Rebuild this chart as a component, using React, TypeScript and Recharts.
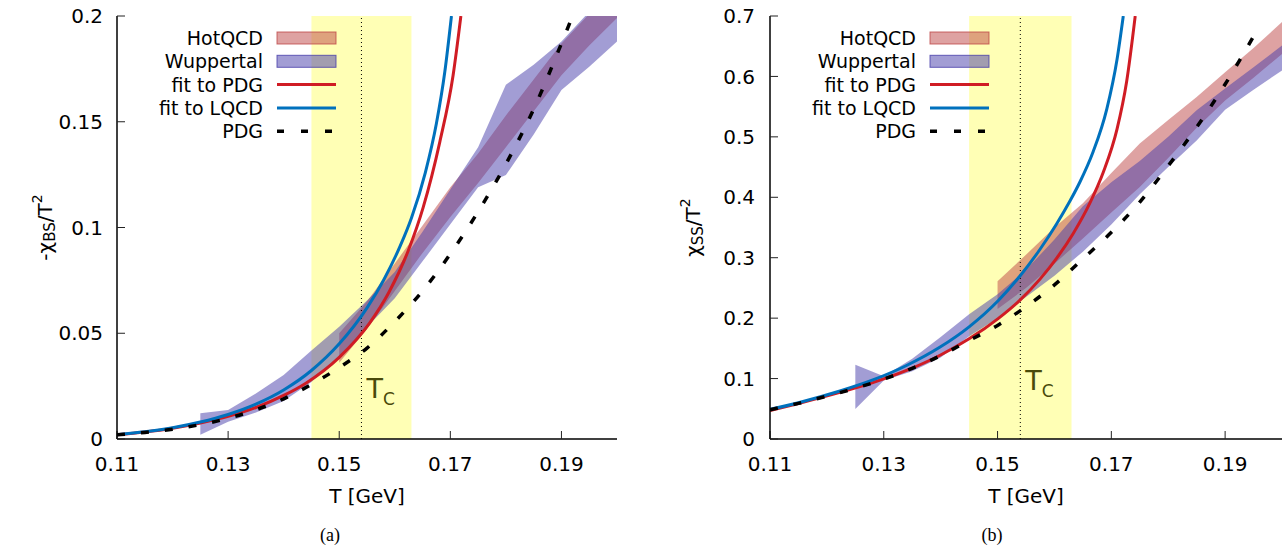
import React from 'react';
import {
  ComposedChart, Area, Line, XAxis, YAxis, ReferenceArea, ReferenceLine, Legend,
} from 'recharts';

const FONT = '"DejaVu Sans", Verdana, sans-serif';
const HOT_COLOR = '#be4646';
const WUP_COLOR = '#463caa';
const FIT_PDG_COLOR = '#d01c24';
const FIT_LQCD_COLOR = '#0071bd';
const YELLOW = '#ffffb5';
const OLIVE = '#4a4a0a';

// shared
const T_TICKS = [0.11, 0.13, 0.15, 0.17, 0.19];
const T_DOMAIN = [0.11, 0.2];
const TC = 0.154;
const TC_BAND = [0.145, 0.163];

// (a) -chi_BS / T^2
const BS_TICKS = [0, 0.05, 0.1, 0.15, 0.2];

const BS_HOT_T = [0.150, 0.155, 0.160, 0.165, 0.170, 0.175, 0.180, 0.185, 0.190, 0.195, 0.200];
const BS_HOT_LO = [0.036, 0.052, 0.070, 0.088, 0.105, 0.121, 0.138, 0.155, 0.172, 0.186, 0.199];
const BS_HOT_HI = [0.050, 0.065, 0.083, 0.101, 0.119, 0.135, 0.153, 0.170, 0.187, 0.201, 0.214];

const BS_WUP_T = [0.125, 0.130, 0.135, 0.140, 0.145, 0.150, 0.155, 0.160, 0.165, 0.170, 0.175, 0.180, 0.185, 0.190, 0.195, 0.200];
const BS_WUP_LO = [0.0020, 0.0082, 0.0125, 0.0180, 0.0270, 0.0390, 0.0530, 0.0665, 0.0840, 0.1015, 0.1190, 0.1248, 0.1440, 0.1650, 0.1760, 0.1880];
const BS_WUP_HI = [0.0122, 0.0137, 0.0215, 0.0303, 0.0418, 0.0531, 0.0655, 0.0790, 0.0980, 0.1180, 0.1380, 0.1675, 0.1770, 0.1880, 0.2020, 0.2160];

const BS_FITPDG_T = [0.110, 0.115, 0.120, 0.125, 0.130, 0.135, 0.140, 0.144, 0.150, 0.1555, 0.159, 0.1624, 0.1651, 0.1681, 0.1705, 0.1719];
const BS_FITPDG = [0.0020, 0.0033, 0.0051, 0.0076, 0.0107, 0.0149, 0.0206, 0.0264, 0.0386, 0.0549, 0.0696, 0.0889, 0.1094, 0.1404, 0.1720, 0.2000];

const BS_FITLQCD_T = [0.110, 0.115, 0.120, 0.125, 0.130, 0.135, 0.140, 0.145, 0.150, 0.155, 0.158, 0.161, 0.163, 0.1655, 0.1675, 0.169, 0.1702];
const BS_FITLQCD = [0.0020, 0.0034, 0.0053, 0.0080, 0.0116, 0.0165, 0.0232, 0.0324, 0.0450, 0.0620, 0.0752, 0.0914, 0.1045, 0.1260, 0.1493, 0.1735, 0.2000];

const BS_PDG_T = [0.110, 0.115, 0.120, 0.125, 0.130, 0.135, 0.140, 0.145, 0.150, 0.155, 0.160, 0.165, 0.170, 0.175, 0.180, 0.185, 0.190, 0.192];
const BS_PDG = [0.0020, 0.0031, 0.0046, 0.0068, 0.0098, 0.0138, 0.0190, 0.0258, 0.0338, 0.0430, 0.0555, 0.0700, 0.0875, 0.1075, 0.1300, 0.1560, 0.1870, 0.2000];

// (b) chi_SS / T^2
const SS_TICKS = [0, 0.1, 0.2, 0.3, 0.4, 0.5, 0.6, 0.7];

const SS_HOT_T = [0.150, 0.155, 0.160, 0.165, 0.170, 0.175, 0.180, 0.185, 0.190, 0.195, 0.200];
const SS_HOT_LO = [0.215, 0.250, 0.290, 0.332, 0.375, 0.417, 0.465, 0.515, 0.560, 0.598, 0.637];
const SS_HOT_HI = [0.261, 0.305, 0.350, 0.390, 0.440, 0.489, 0.528, 0.566, 0.607, 0.647, 0.690];

const SS_WUP_T = [0.125, 0.130, 0.135, 0.140, 0.145, 0.150, 0.155, 0.160, 0.165, 0.170, 0.175, 0.180, 0.185, 0.190, 0.195, 0.200];
const SS_WUP_LO = [0.0495, 0.0970, 0.1120, 0.1350, 0.1700, 0.2000, 0.2350, 0.2700, 0.3100, 0.3550, 0.4050, 0.4500, 0.4940, 0.5450, 0.5780, 0.6100];
const SS_WUP_HI = [0.1227, 0.1040, 0.1330, 0.1690, 0.2064, 0.2394, 0.2800, 0.3300, 0.3850, 0.4250, 0.4600, 0.5000, 0.5440, 0.5800, 0.6150, 0.6510];

const SS_FITPDG_T = [0.110, 0.115, 0.1223, 0.1282, 0.134, 0.1399, 0.145, 0.1501, 0.1539, 0.1575, 0.1604, 0.1633, 0.1662, 0.1686, 0.171, 0.1727, 0.1742];
const SS_FITPDG = [0.0470, 0.0588, 0.0771, 0.0937, 0.1134, 0.1386, 0.1658, 0.1993, 0.2295, 0.2650, 0.2994, 0.3402, 0.3899, 0.4418, 0.5127, 0.5920, 0.7000];

const SS_FITLQCD_T = [0.110, 0.115, 0.1223, 0.1282, 0.134, 0.1399, 0.145, 0.1501, 0.1539, 0.1575, 0.1604, 0.1627, 0.1645, 0.1668, 0.1692, 0.171, 0.1721];
const SS_FITLQCD = [0.0490, 0.0601, 0.0794, 0.0981, 0.1216, 0.1521, 0.1856, 0.2288, 0.2693, 0.3144, 0.3562, 0.3933, 0.4257, 0.4753, 0.5460, 0.6280, 0.7000];

const SS_PDG_T = [0.110, 0.115, 0.120, 0.125, 0.130, 0.135, 0.140, 0.145, 0.150, 0.155, 0.160, 0.165, 0.170, 0.175, 0.180, 0.185, 0.190, 0.1959];
const SS_PDG = [0.0485, 0.0590, 0.0710, 0.0840, 0.0990, 0.1170, 0.1380, 0.1630, 0.1880, 0.2190, 0.2550, 0.2980, 0.3420, 0.3920, 0.4520, 0.5160, 0.5870, 0.6810];

type Pt = { T: number; v: number };
type Rg = { T: number; r: [number, number] };

const curve = (t: number[], v: number[]): Pt[] => t.map((T, i) => ({ T, v: v[i] }));
const band = (t: number[], lo: number[], hi: number[]): Rg[] =>
  t.map((T, i) => ({ T, r: [lo[i], hi[i]] as [number, number] }));

const LEGEND_ITEMS = [
  { name: 'HotQCD', kind: 'band', color: HOT_COLOR },
  { name: 'Wuppertal', kind: 'band', color: WUP_COLOR },
  { name: 'fit to PDG', kind: 'line', color: FIT_PDG_COLOR },
  { name: 'fit to LQCD', kind: 'line', color: FIT_LQCD_COLOR },
  { name: 'PDG', kind: 'dash', color: '#000' },
];

const renderKey = () => (
  <svg width={290} height={125} style={{ display: 'block' }}>
    {LEGEND_ITEMS.map((it, i) => {
      const cy = 12 + i * 23.3;
      return (
        <g key={it.name}>
          <text x={203} y={cy + 7} textAnchor="end" fontFamily={FONT} fontSize={19} fill="#000">
            {it.name}
          </text>
          {it.kind === 'band' ? (
            <rect x={217} y={cy - 6} width={59} height={12} fill={it.color} fillOpacity={0.5}
              stroke={it.color} strokeOpacity={0.8} />
          ) : (
            <line x1={217} x2={276} y1={cy} y2={cy} stroke={it.color}
              strokeWidth={it.kind === 'dash' ? 3.5 : 3}
              strokeDasharray={it.kind === 'dash' ? '7 17' : undefined} />
          )}
        </g>
      );
    })}
  </svg>
);

// T_c label sitting next to the dotted line
const tcLabel = (lift: number) => (props: any) => {
  const vb = props.viewBox || {};
  const bottom = Math.max(vb.y, vb.y + vb.height);
  return (
    <text x={vb.x + 5} y={bottom - lift} fill={OLIVE} fontFamily={FONT} fontSize={27}>
      T<tspan dy={7} fontSize={17}>C</tspan>
    </text>
  );
};

const yTitle = (pre: string, sub: string, cxOff: number) => (props: any) => {
  const vb = props.viewBox || {};
  const cx = vb.x + cxOff;
  const cy = vb.y + vb.height / 2;
  return (
    <text transform={`rotate(-90 ${cx} ${cy})`} x={cx} y={cy} textAnchor="middle"
      dominantBaseline="central" fontFamily={FONT} fontSize={20} fill="#000">
      {pre}
      <tspan dy={5} fontSize={15}>{sub}</tspan>
      <tspan dy={-5}>/T</tspan>
      <tspan dy={-8} fontSize={14}>2</tspan>
    </text>
  );
};

interface PanelProps {
  left: number;
  width: number;
  rightMargin: number;
  yMax: number;
  yTicks: number[];
  hot: Rg[];
  wup: Rg[];
  fitPdg: Pt[];
  fitLqcd: Pt[];
  pdg: Pt[];
  pre: string;
  sub: string;
  titleX: number;
  tickGap: number;
  tcLift: number;
  caption: string;
  captionX: number;
}

const tickFont = { fontSize: 20, fontFamily: FONT, fill: '#000' };
const border = { stroke: '#000', strokeWidth: 1.5 };
const tickMark = { stroke: '#222', strokeWidth: 1 };

const Panel: React.FC<PanelProps> = (p) => (
  <div style={{ position: 'absolute', left: p.left, top: 0 }}>
    <ComposedChart width={p.width} height={547}
      margin={{ top: 16, right: p.rightMargin, bottom: 77, left: 0 }}>
      <ReferenceArea x1={TC_BAND[0]} x2={TC_BAND[1]} fill={YELLOW} fillOpacity={1} stroke="none" ifOverflow="hidden" />
      <Area data={p.hot} dataKey="r" type="linear" fill={HOT_COLOR} fillOpacity={0.5} stroke="none"
        dot={false} activeDot={false} isAnimationActive={false} />
      <Area data={p.wup} dataKey="r" type="linear" fill={WUP_COLOR} fillOpacity={0.5} stroke="none"
        dot={false} activeDot={false} isAnimationActive={false} />
      <ReferenceLine x={TC} stroke="#000" strokeWidth={1} strokeDasharray="1 3" label={tcLabel(p.tcLift)} />
      <Line data={p.fitPdg} dataKey="v" type="monotone" stroke={FIT_PDG_COLOR} strokeWidth={3}
        dot={false} activeDot={false} isAnimationActive={false} />
      <Line data={p.fitLqcd} dataKey="v" type="monotone" stroke={FIT_LQCD_COLOR} strokeWidth={3}
        dot={false} activeDot={false} isAnimationActive={false} />
      <Line data={p.pdg} dataKey="v" type="monotone" stroke="#000" strokeWidth={3.5} strokeDasharray="8 16"
        dot={false} activeDot={false} isAnimationActive={false} />
      <XAxis type="number" dataKey="T" domain={T_DOMAIN} ticks={T_TICKS} allowDataOverflow
        height={31} tickSize={-8} tickMargin={26} tick={tickFont} axisLine={border} tickLine={tickMark}
        label={{ value: 'T [GeV]', position: 'bottom', offset: 19, fill: '#000', fontSize: 20, fontFamily: FONT }} />
      <XAxis xAxisId="top" orientation="top" type="number" dataKey="T" domain={T_DOMAIN} ticks={T_TICKS}
        allowDataOverflow height={0} tickSize={-8} tick={false} axisLine={border} tickLine={tickMark} />
      <YAxis type="number" domain={[0, p.yMax]} ticks={p.yTicks} allowDataOverflow width={117}
        tickSize={-8} tickMargin={p.tickGap} tick={tickFont} axisLine={border} tickLine={tickMark}
        label={yTitle(p.pre, p.sub, p.titleX)} />
      <YAxis yAxisId="right" orientation="right" type="number" domain={[0, p.yMax]} ticks={p.yTicks}
        allowDataOverflow width={0} tickSize={-8} tick={false} axisLine={border} tickLine={tickMark} />
      <Legend content={renderKey} layout="horizontal" verticalAlign="middle" align="center"
        wrapperStyle={{ left: 60, top: 26, width: 290, height: 125 }} />
    </ComposedChart>
    <div style={{
      position: 'absolute', left: p.captionX - 30, top: 523, width: 60, textAlign: 'center',
      fontFamily: '"Liberation Serif", "Times New Roman", serif', fontSize: 18, lineHeight: '24px',
      color: '#000',
    }}>
      {p.caption}
    </div>
  </div>
);

export default function App() {
  return (
    <div style={{
      position: 'absolute', left: 0, top: 0, width: 1284, height: 547,
      background: '#fff', overflow: 'hidden',
    }}>
      <Panel left={0} width={627} rightMargin={10} yMax={0.2} yTicks={BS_TICKS}
        hot={band(BS_HOT_T, BS_HOT_LO, BS_HOT_HI)}
        wup={band(BS_WUP_T, BS_WUP_LO, BS_WUP_HI)}
        fitPdg={curve(BS_FITPDG_T, BS_FITPDG)}
        fitLqcd={curve(BS_FITLQCD_T, BS_FITLQCD)}
        pdg={curve(BS_PDG_T, BS_PDG)}
        pre="-χ" sub="BS" titleX={45} tickGap={22} tcLift={41}
        caption="(a)" captionX={330} />
      <Panel left={653} width={631} rightMargin={2} yMax={0.7} yTicks={SS_TICKS}
        hot={band(SS_HOT_T, SS_HOT_LO, SS_HOT_HI)}
        wup={band(SS_WUP_T, SS_WUP_LO, SS_WUP_HI)}
        fitPdg={curve(SS_FITPDG_T, SS_FITPDG)}
        fitLqcd={curve(SS_FITLQCD_T, SS_FITLQCD)}
        pdg={curve(SS_PDG_T, SS_PDG)}
        pre="χ" sub="SS" titleX={40} tickGap={23} tcLift={49}
        caption="(b)" captionX={339} />
    </div>
  );
}
